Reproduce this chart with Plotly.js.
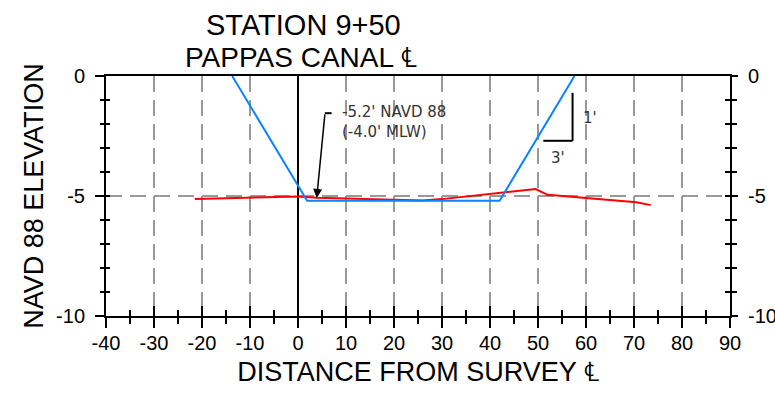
<!DOCTYPE html>
<html>
<head>
<meta charset="utf-8">
<script src="https://cdn.plot.ly/plotly-3.0.1.min.js"></script>
<style>html,body{margin:0;padding:0;background:#fff;}#chart{width:775px;height:403px;}</style>
</head>
<body>
<div id="chart"></div>
<script>
// Design section (template) – blue
const designX = [-13.7, 1.9, 42.0, 57.6];
const designY = [0, -5.2, -5.2, 0];
// Existing ground survey – red
const groundX = [-21.5, 0, 4, 17, 26, 30, 40, 49.5, 52, 70.5, 73.5];
const groundY = [-5.12, -5.02, -5.07, -5.15, -5.19, -5.13, -4.9, -4.71, -4.95, -5.26, -5.38];

// Tick labels (plain hyphen minus, as in the drawing)
const xTickVals = [-40, -30, -20, -10, 0, 10, 20, 30, 40, 50, 60, 70, 80, 90];
const xTickText = ['-40', '-30', '-20', '-10', '0', '10', '20', '30', '40', '50', '60', '70', '80', '90'];
const yTickVals = [0, -5, -10];
const yTickText = ['0', '-5', '-10'];

const titleLines = ["STATION 9+50", "PAPPAS CANAL \u2104"];
const xTitle = "DISTANCE FROM SURVEY \u2104";
const yTitle = "NAVD 88 ELEVATION";
const calloutText = ["-5.2' NAVD 88", "(-4.0' MLW)"];
const calloutPoint = [3.9, -5.08];
const slopeLabels = ["1'", "3'"];
const xRange = [-40, 90];
const yRange = [-10, 0];

const FONT = "Liberation Sans, Arial, sans-serif";
const NOTE = "DejaVu Sans, Verdana, sans-serif";

const traces = [
  {x: groundX, y: groundY, type: 'scatter', mode: 'lines', line: {color: '#ff0000', width: 2}, hoverinfo: 'skip', showlegend: false},
  {x: designX, y: designY, type: 'scatter', mode: 'lines', line: {color: '#0a84ff', width: 2}, hoverinfo: 'skip', showlegend: false},
  {x: [], y: [], xaxis: 'x2', yaxis: 'y3', type: 'scatter', showlegend: false, hoverinfo: 'skip'},
  {x: [], y: [], xaxis: 'x', yaxis: 'y2', type: 'scatter', showlegend: false, hoverinfo: 'skip'},
  {x: [], y: [], xaxis: 'x', yaxis: 'y4', type: 'scatter', showlegend: false, hoverinfo: 'skip'}
];

const tickFont = {family: FONT, size: 20, color: '#000'};

const layout = {
  width: 775, height: 403,
  margin: {l: 106, r: 45, t: 76, b: 87},
  paper_bgcolor: '#fff', plot_bgcolor: '#fff',
  showlegend: false,
  font: {family: FONT, color: '#000'},
  xaxis: {
    range: xRange, tickmode: 'array', tickvals: xTickVals, ticktext: xTickText,
    ticks: 'outside', ticklen: 10, tickwidth: 2, tickcolor: '#000',
    minor: {tickmode: 'linear', tick0: 0, dtick: 5, ticks: 'outside', ticklen: 6, tickwidth: 1.5, tickcolor: '#000', showgrid: false},
    showgrid: true, gridcolor: '#999', gridwidth: 2, griddash: '16px,8px',
    zeroline: true, zerolinecolor: '#000', zerolinewidth: 2,
    showline: true, linecolor: '#000', linewidth: 2, mirror: true,
    tickfont: tickFont, ticklabelstandoff: -2,
    title: {text: xTitle, font: {family: FONT, size: 27, color: '#000'}, standoff: 9}
  },
  xaxis2: {
    range: xRange, tickmode: 'array', tickvals: xTickVals, overlaying: 'x', anchor: 'y', side: 'bottom',
    ticks: 'inside', ticklen: 10, tickwidth: 2, tickcolor: '#000',
    minor: {tickmode: 'linear', tick0: 0, dtick: 5, ticks: 'inside', ticklen: 6, tickwidth: 1.5, tickcolor: '#000', showgrid: false},
    showticklabels: false, showgrid: false, zeroline: false, showline: false
  },
  yaxis: {
    range: yRange, tickmode: 'array', tickvals: yTickVals, ticktext: yTickText,
    ticks: 'outside', ticklen: 9, tickwidth: 2, tickcolor: '#000',
    minor: {tickmode: 'linear', tick0: 0, dtick: 1, ticks: 'outside', ticklen: 4, tickwidth: 1.5, tickcolor: '#000', showgrid: false},
    showgrid: true, gridcolor: '#999', gridwidth: 2, griddash: '16px,8px',
    zeroline: false,
    showline: true, linecolor: '#000', linewidth: 2,
    tickfont: tickFont, ticklabelstandoff: 6,
    title: {text: yTitle, font: {family: FONT, size: 27, color: '#000'}, standoff: 5}
  },
  yaxis2: {
    range: yRange, tickmode: 'array', tickvals: yTickVals, ticktext: yTickText, overlaying: 'y', side: 'right', anchor: 'x',
    ticks: 'outside', ticklen: 6, tickwidth: 2, tickcolor: '#000',
    minor: {tickmode: 'linear', tick0: 0, dtick: 1, ticks: 'outside', ticklen: 5, tickwidth: 1.5, tickcolor: '#000', showgrid: false},
    showgrid: false, zeroline: false,
    showline: true, linecolor: '#000', linewidth: 2,
    tickfont: tickFont, ticklabelstandoff: 6
  },
  yaxis3: {
    range: yRange, tickmode: 'array', tickvals: yTickVals, overlaying: 'y', side: 'left', anchor: 'x2',
    ticks: 'inside', ticklen: 4, tickwidth: 2, tickcolor: '#000',
    minor: {tickmode: 'linear', tick0: 0, dtick: 1, ticks: 'inside', ticklen: 4, tickwidth: 1.5, tickcolor: '#000', showgrid: false},
    showticklabels: false, showgrid: false, zeroline: false, showline: false
  },
  yaxis4: {
    range: yRange, tickmode: 'array', tickvals: yTickVals, overlaying: 'y', side: 'right', anchor: 'x',
    ticks: 'inside', ticklen: 5, tickwidth: 2, tickcolor: '#000',
    minor: {tickmode: 'linear', tick0: 0, dtick: 1, ticks: 'inside', ticklen: 5, tickwidth: 1.5, tickcolor: '#000', showgrid: false},
    showticklabels: false, showgrid: false, zeroline: false, showline: false
  },
  shapes: [
    // callout leader tick
    {type: 'line', xref: 'x', yref: 'y', x0: 5.6, x1: 7.0, y0: -1.55, y1: -1.55, line: {color: '#000', width: 2}},
    // slope triangle
    {type: 'line', xref: 'x', yref: 'y', x0: 57.2, x1: 57.2, y0: -0.7, y1: -2.7, line: {color: '#000', width: 2}},
    {type: 'line', xref: 'x', yref: 'y', x0: 51.1, x1: 57.2, y0: -2.7, y1: -2.7, line: {color: '#000', width: 2}}
  ],
  annotations: [
    {xref: 'paper', yref: 'paper', x: 0.316, y: 1 + (76 - 25) / 240, xanchor: 'center', yanchor: 'middle',
     text: titleLines[0], showarrow: false, font: {family: FONT, size: 29, color: '#000'}},
    {xref: 'paper', yref: 'paper', x: 0.313, y: 1 + (76 - 57) / 240, xanchor: 'center', yanchor: 'middle',
     text: titleLines[1], showarrow: false, font: {family: FONT, size: 28, color: '#000'}},
    {xref: 'x', yref: 'y', x: calloutPoint[0], y: calloutPoint[1], ax: 8.3, ay: -85, axref: 'pixel', ayref: 'pixel',
     text: '', showarrow: true, arrowhead: 2, arrowsize: 1.2, arrowwidth: 1.5, arrowcolor: '#000', standoff: 0},
    {xref: 'x', yref: 'y', x: 8.8, y: -1.9, xanchor: 'left', yanchor: 'middle', align: 'left',
     text: calloutText.join('<br>'), showarrow: false, font: {family: NOTE, size: 15, color: '#333'}},
    {xref: 'x', yref: 'y', x: 59.0, y: -1.74, xanchor: 'left', yanchor: 'middle',
     text: slopeLabels[0], showarrow: false, font: {family: NOTE, size: 15, color: '#333'}},
    {xref: 'x', yref: 'y', x: 54.1, y: -3.4, xanchor: 'center', yanchor: 'middle',
     text: slopeLabels[1], showarrow: false, font: {family: NOTE, size: 15, color: '#333'}}
  ]
};

Plotly.newPlot('chart', traces, layout, {staticPlot: true, displayModeBar: false});
</script>
</body>
</html>
